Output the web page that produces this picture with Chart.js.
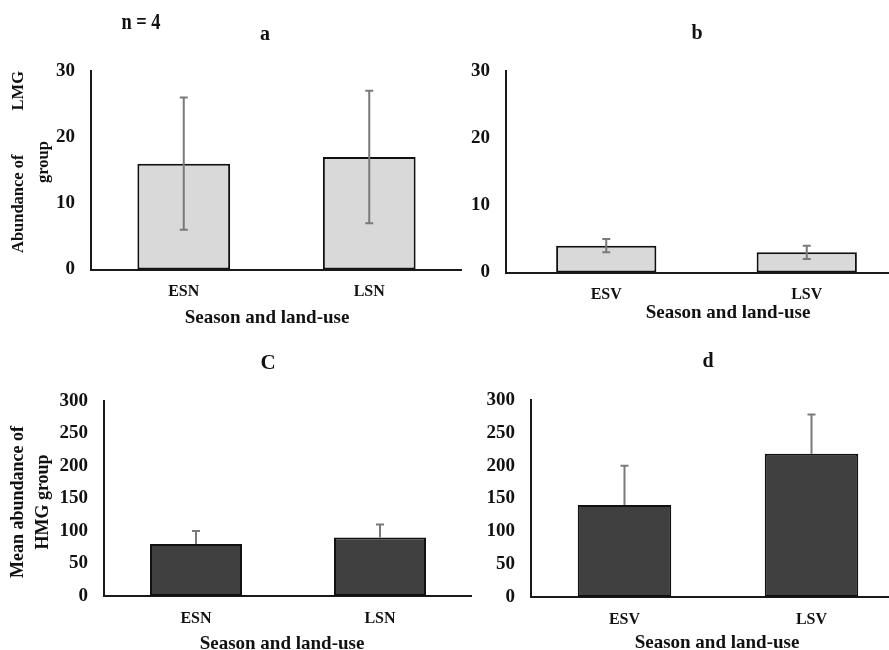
<!DOCTYPE html>
<html>
<head>
<meta charset="utf-8">
<script src="https://cdn.jsdelivr.net/npm/chart.js@4/dist/chart.umd.min.js"></script>
<style>
  html, body { margin:0; padding:0; background:#fff; overflow:hidden; }
  body { width:889px; height:650px; position:relative; }
  canvas { position:absolute; }
  .txt { position:absolute; font-family:'Liberation Serif', serif; font-weight:bold; color:#111; white-space:nowrap; transform:translate(-50%,-50%); }
  .rot { position:absolute; font-family:'Liberation Serif', serif; font-weight:bold; color:#111; white-space:nowrap; text-align:center; line-height:25px; transform:translate(-50%,-50%) rotate(-90deg); }
</style>
</head>
<body>
<canvas id="pa"></canvas>
<canvas id="pb"></canvas>
<canvas id="pc"></canvas>
<canvas id="pd"></canvas>

<div class="txt" style="left:141px;top:22px;font-size:23px;transform:translate(-50%,-50%) scaleX(0.8);">n = 4</div>
<div class="txt" style="left:265px;top:33px;font-size:20px;">a</div>
<div class="txt" style="left:697px;top:32px;font-size:20px;">b</div>
<div class="txt" style="left:268px;top:362px;font-size:21px;">C</div>
<div class="txt" style="left:708px;top:360px;font-size:20px;">d</div>

<div class="txt" style="left:267px;top:317px;font-size:19px;">Season and land-use</div>
<div class="txt" style="left:728px;top:312px;font-size:19px;">Season and land-use</div>
<div class="txt" style="left:282px;top:643px;font-size:19px;">Season and land-use</div>
<div class="txt" style="left:717px;top:642px;font-size:19px;">Season and land-use</div>

<div class="rot" style="left:30px;top:162px;font-size:16.5px;">Abundance of<span style="display:inline-block;width:44px"></span>LMG<br>group</div>
<div class="rot" style="left:30px;top:502px;font-size:18px;">Mean abundance of<br>HMG group</div>

<script>
// categories
const catsN = ['ESN', 'LSN'];
const catsV = ['ESV', 'LSV'];

// LMG group (panels a, b)
const lmgNMean = [16, 17];
const lmgNErr = [10, 10];
const lmgVMean = [4, 3];
const lmgVErr = [1, 1];

// HMG group (panels c, d)
const hmgNMean = [80, 90];
const hmgNErr = [20, 20];
const hmgVMean = [140, 218];
const hmgVErr = [60, 60];

// y axis ranges
const lmgMax = 30, lmgStep = 10;
const hmgMax = 300, hmgStep = 50;

Chart.defaults.font.family = "'Liberation Serif', serif";
Chart.defaults.font.weight = 'bold';
Chart.defaults.color = '#111';

// draws the error bars from the dataset's err array
const errorBars = {
    id: 'errorBars',
    afterDatasetsDraw(chart, args, opts) {
        const ctx = chart.ctx;
        const y = chart.scales.y;
        const meta = chart.getDatasetMeta(0);
        const ds = chart.data.datasets[0];
        ctx.save();
        ctx.strokeStyle = '#7a7a7a';
        ctx.lineWidth = 2;
        meta.data.forEach(function(bar, i) {
            const m = ds.data[i], e = ds.err[i];
            const yTop = y.getPixelForValue(m + e);
            const yBot = y.getPixelForValue(opts.upperOnly ? m : m - e);
            ctx.beginPath();
            ctx.moveTo(bar.x, yTop); ctx.lineTo(bar.x, yBot);
            ctx.moveTo(bar.x - 4, yTop); ctx.lineTo(bar.x + 4, yTop);
            if (!opts.upperOnly) { ctx.moveTo(bar.x - 4, yBot); ctx.lineTo(bar.x + 4, yBot); }
            ctx.stroke();
        });
        ctx.restore();
    }
};

function makePanel(id, left, top, w, h, area, cats, means, errs, max, step, color, upperOnly, tickSize) {
    const cv = document.getElementById(id);
    cv.style.left = left + 'px';
    cv.style.top = top + 'px';
    cv.style.width = w + 'px';
    cv.style.height = h + 'px';
    cv.width = w; cv.height = h;
    new Chart(cv, {
        type: 'bar',
        data: {
            labels: cats,
            datasets: [{
                data: means,
                err: errs,
                backgroundColor: color,
                borderColor: '#111',
                borderWidth: 2,
                borderSkipped: false,
                categoryPercentage: 1,
                barPercentage: 0.5
            }]
        },
        options: {
            responsive: false,
            animation: false,
            devicePixelRatio: 1,
            layout: { padding: { top: area.t, left: 0, right: 0, bottom: 0 } },
            plugins: {
                legend: { display: false },
                tooltip: { enabled: false },
                errorBars: { upperOnly: upperOnly }
            },
            scales: {
                x: {
                    grid: { display: false, drawTicks: false },
                    border: { color: '#1a1a1a', width: 2 },
                    ticks: { padding: 13, font: { size: 16 } },
                    afterFit: function(s) { s.height = h - area.b; }
                },
                y: {
                    min: 0, max: max,
                    grid: { display: false, drawTicks: false },
                    border: { color: '#1a1a1a', width: 2 },
                    ticks: { stepSize: step, padding: 16, font: { size: tickSize } },
                    afterFit: function(s) { s.width = area.l; }
                }
            }
        },
        plugins: [errorBars]
    });
}

makePanel('pa', 0, 0, 462, 330, { l: 91, t: 71, b: 269.5 }, catsN, lmgNMean, lmgNErr, lmgMax, lmgStep, '#d9d9d9', false, 19);
makePanel('pb', 440, 0, 467, 330, { l: 66, t: 71, b: 272.5 }, catsV, lmgVMean, lmgVErr, lmgMax, lmgStep, '#d9d9d9', false, 19);
makePanel('pc', 0, 320, 472, 330, { l: 104, t: 81, b: 276 }, catsN, hmgNMean, hmgNErr, hmgMax, hmgStep, '#404040', true, 19);
makePanel('pd', 440, 320, 465, 330, { l: 91, t: 80, b: 277 }, catsV, hmgVMean, hmgVErr, hmgMax, hmgStep, '#404040', true, 19);
</script>
</body>
</html>
